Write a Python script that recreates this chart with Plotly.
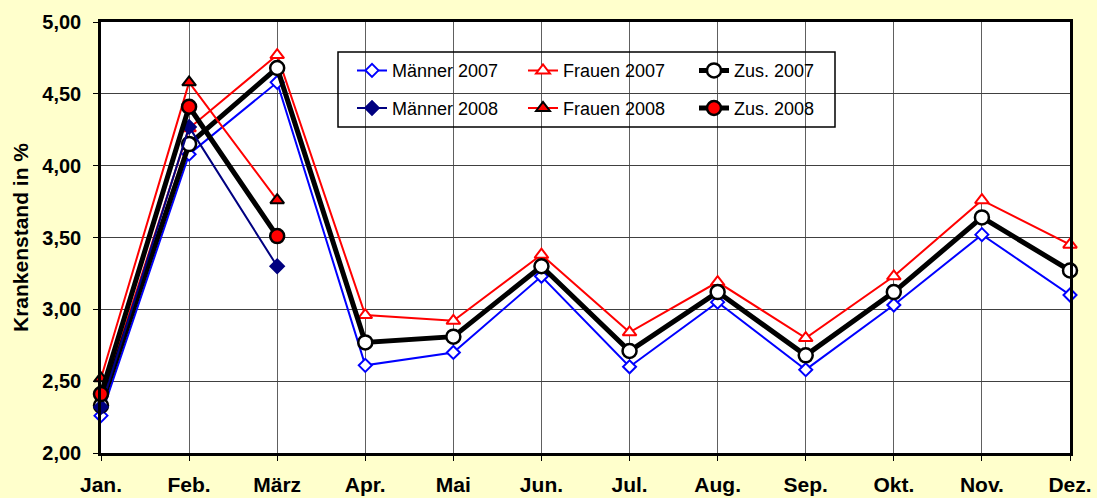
import plotly.graph_objects as go

months = ["Jan.", "Feb.", "März", "Apr.", "Mai", "Jun.", "Jul.", "Aug.", "Sep.", "Okt.", "Nov.", "Dez."]
maenner_2007 = [2.26, 4.08, 4.58, 2.61, 2.70, 3.23, 2.60, 3.05, 2.58, 3.03, 3.52, 3.10]
frauen_2007 = [2.36, 4.26, 4.77, 2.96, 2.92, 3.38, 2.84, 3.19, 2.80, 3.23, 3.76, 3.45]
zus_2007 = [2.33, 4.15, 4.68, 2.77, 2.81, 3.30, 2.71, 3.12, 2.68, 3.12, 3.64, 3.27]
months_2008 = ["Jan.", "Feb.", "März"]
maenner_2008 = [2.32, 4.27, 3.30]
frauen_2008 = [2.52, 4.58, 3.76]
zus_2008 = [2.41, 4.41, 3.51]

FONT = "Liberation Sans, Arial, sans-serif"

fig = go.Figure()

fig.add_trace(go.Scatter(
    x=months, y=maenner_2007, name="Männer 2007", mode="lines+markers",
    line=dict(color="#0000FF", width=2),
    marker=dict(symbol="diamond", size=10, color="white", line=dict(color="#0000FF", width=2)),
    cliponaxis=False, legend="legend"))
fig.add_trace(go.Scatter(
    x=months, y=frauen_2007, name="Frauen 2007", mode="lines+markers",
    line=dict(color="#FF0000", width=2),
    marker=dict(symbol="triangle-up", size=12, color="white", line=dict(color="#FF0000", width=2)),
    cliponaxis=False, legend="legend"))
fig.add_trace(go.Scatter(
    x=months, y=zus_2007, name="Zus. 2007", mode="lines+markers",
    line=dict(color="#000000", width=5),
    marker=dict(symbol="circle", size=14, color="white", line=dict(color="#000000", width=2.5)),
    cliponaxis=False, legend="legend"))
fig.add_trace(go.Scatter(
    x=months_2008, y=maenner_2008, name="Männer 2008", mode="lines+markers",
    line=dict(color="#000080", width=2),
    marker=dict(symbol="diamond", size=11, color="#000080", line=dict(color="#000080", width=1.5)),
    cliponaxis=False, legend="legend2"))
fig.add_trace(go.Scatter(
    x=months_2008, y=frauen_2008, name="Frauen 2008", mode="lines+markers",
    line=dict(color="#FF0000", width=2),
    marker=dict(symbol="triangle-up", size=12, color="#FF0000", line=dict(color="#000000", width=2)),
    cliponaxis=False, legend="legend2"))
fig.add_trace(go.Scatter(
    x=months_2008, y=zus_2008, name="Zus. 2008", mode="lines+markers",
    line=dict(color="#000000", width=5),
    marker=dict(symbol="circle", size=14, color="#FF0000", line=dict(color="#000000", width=2.5)),
    cliponaxis=False, legend="legend2"))

L, R, T, B = 101, 27, 22, 45
W, H = 1097, 498
pw, ph = W - L - R, H - T - B

def px_x(p):
    return (p - L) / pw

def px_y(p):
    return (H - B - p) / ph

leg_common = dict(
    orientation="h", xanchor="left", yanchor="middle",
    bgcolor="rgba(0,0,0,0)", borderwidth=0,
    font=dict(family=FONT, size=18, color="black"),
    entrywidth=126, entrywidthmode="pixels",
)

fig.update_layout(
    width=W, height=H,
    margin=dict(l=L, r=R, t=T, b=B, autoexpand=False),
    paper_bgcolor="#FFFFCC",
    plot_bgcolor="white",
    separators=",.",
    font=dict(family=FONT, color="black"),
    legend=dict(x=px_x(352), y=px_y(70.7), **leg_common),
    legend2=dict(x=px_x(352), y=px_y(108.3), **leg_common),
    shapes=[
        dict(type="rect", xref="paper", yref="paper", layer="between",
             x0=px_x(338), x1=px_x(835), y0=px_y(127), y1=px_y(52),
             fillcolor="white", line=dict(width=0)),
        dict(type="rect", xref="paper", yref="paper", layer="above",
             x0=px_x(338), x1=px_x(835), y0=px_y(127), y1=px_y(52),
             fillcolor="rgba(0,0,0,0)", line=dict(color="black", width=1.5)),
    ],
)

fig.update_xaxes(
    type="category", categoryorder="array", categoryarray=months,
    range=[0, 11], showgrid=True, gridcolor="#606060", gridwidth=1,
    showline=True, linecolor="black", linewidth=2.5, mirror=True,
    ticks="outside", ticklen=5, tickcolor="black", ticklabelstandoff=6,
    tickfont=dict(family=FONT, size=21, color="black", weight="bold"),
    zeroline=False, automargin=False,
)
fig.update_yaxes(
    range=[2, 5], dtick=0.5, tick0=2, tickformat=".2f",
    showgrid=True, gridcolor="#404040", gridwidth=1,
    showline=True, linecolor="black", linewidth=2.5, mirror=True,
    ticks="outside", ticklen=5, tickcolor="black", ticklabelstandoff=8,
    tickfont=dict(family=FONT, size=20, color="black", weight="bold"),
    title=dict(text="Krankenstand in %", standoff=8,
               font=dict(family=FONT, size=21, color="black", weight="bold")),
    zeroline=False, automargin=False,
)

fig.write_html(
    "out.html",
    config={"displayModeBar": False},
    post_script="document.body.style.margin='0';document.body.style.background='#FFFFCC';document.body.style.overflow='hidden';",
)
